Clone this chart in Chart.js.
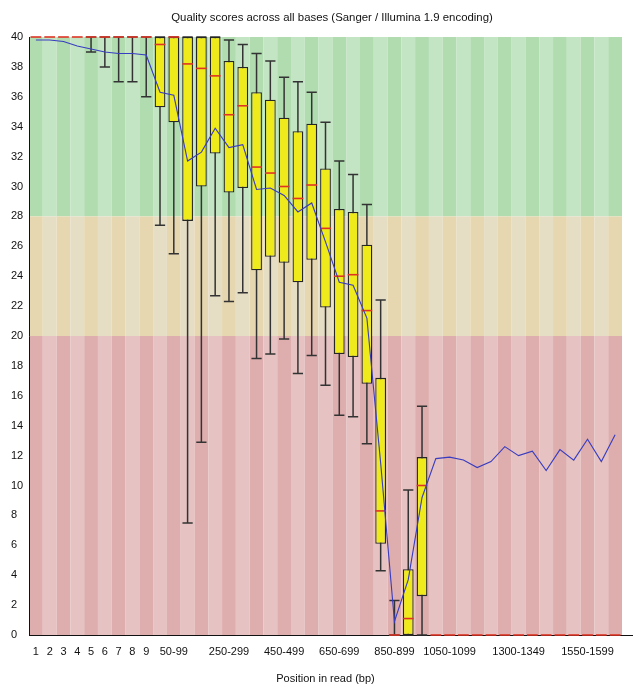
<!DOCTYPE html>
<html>
<head>
<meta charset="utf-8">
<script src="https://cdn.jsdelivr.net/npm/chart.js@4.4.1/dist/chart.umd.min.js"></script>
<style>
  html, body { margin: 0; padding: 0; background: #ffffff; }
  #wrap { width: 633px; height: 688px; }
</style>
</head>
<body>
<div id="wrap"><canvas id="chart" width="633" height="688"></canvas></div>
<script>
// Per-base quality summary: one entry per base position (or position group).
const categories = [
  '1', '2', '3', '4', '5', '6', '7', '8', '9', '10-49',
  '50-99', '100-149', '150-199', '200-249', '250-299', '300-349', '350-399', '400-449', '450-499', '500-549',
  '550-599', '600-649', '650-699', '700-749', '750-799', '800-849', '850-899', '900-949', '950-999', '1000-1049',
  '1050-1099', '1100-1149', '1150-1199', '1200-1249', '1250-1299', '1300-1349', '1350-1399', '1400-1449', '1450-1499', '1500-1549',
  '1550-1599', '1600-1649', '1650-1699'
];

// Position labels that are printed under the axis.
const shownTicks = ['1', '2', '3', '4', '5', '6', '7', '8', '9', '50-99', '250-299', '450-499',
  '650-699', '850-899', '1050-1099', '1300-1349', '1550-1599'];

const meanQuality = [
  39.8, 39.8, 39.7, 39.4, 39.2, 39.0, 38.9, 38.9, 38.8, 36.3,
  36.1, 31.7, 32.3, 33.9, 32.6, 32.8, 29.8, 29.9, 29.4, 28.3,
  28.9, 26.3, 23.6, 23.4, 21.2, 11.5, 0.9, 3.7, 9.2, 11.8,
  11.9, 11.7, 11.2, 11.6, 12.6, 12.0, 12.3, 11.0, 12.4, 11.7,
  13.1, 11.6, 13.4
];

const medianQuality = [
  40, 40, 40, 40, 40, 40, 40, 40, 40, 39.5,
  40, 38.2, 37.9, 37.4, 34.8, 35.4, 31.3, 30.9, 30.0, 29.2,
  30.1, 27.2, 24.0, 24.1, 21.7, 8.3, 0, 1.1, 10.0, 0,
  0, 0, 0, 0, 0, 0, 0, 0, 0, 0,
  0, 0, 0
];

const lowerQuartile = [
  40, 40, 40, 40, 40, 40, 40, 40, 40, 35.3,
  34.3, 27.7, 30.0, 32.2, 29.6, 29.9, 24.4, 25.3, 24.9, 23.6,
  25.1, 21.9, 18.8, 18.6, 16.8, 6.1, 0, 0, 2.6, 0,
  0, 0, 0, 0, 0, 0, 0, 0, 0, 0,
  0, 0, 0
];

const upperQuartile = [
  40, 40, 40, 40, 40, 40, 40, 40, 40, 40,
  40, 40, 40, 40, 38.4, 38.0, 36.3, 35.8, 34.6, 33.7,
  34.2, 31.2, 28.5, 28.3, 26.1, 17.2, 0, 4.4, 11.9, 0,
  0, 0, 0, 0, 0, 0, 0, 0, 0, 0,
  0, 0, 0
];

const lowerWhisker = [
  40, 40, 40, 40, 39, 38, 37, 37, 36, 27.4,
  25.5, 7.5, 12.9, 22.7, 22.3, 22.9, 18.5, 18.8, 19.8, 17.5,
  18.7, 16.7, 14.7, 14.6, 12.8, 4.3, 0, 0, 0, 0,
  0, 0, 0, 0, 0, 0, 0, 0, 0, 0,
  0, 0, 0
];

const upperWhisker = [
  40, 40, 40, 40, 40, 40, 40, 40, 40, 40,
  40, 40, 40, 40, 39.8, 39.5, 38.9, 38.4, 37.3, 37.0,
  36.3, 34.3, 31.7, 30.8, 28.8, 22.4, 2.3, 9.7, 15.3, 0,
  0, 0, 0, 0, 0, 0, 0, 0, 0, 0,
  0, 0, 0
];

const chartTitle = 'Quality scores across all bases (Sanger / Illumina 1.9 encoding)';
const axisTitle = 'Position in read (bp)';

const FONT = "'Liberation Sans', Arial, sans-serif";

// Quality zones, each painted with alternating column shades.
const zones = [
  { from: 28, to: 40, shades: ['rgb(176,220,176)', 'rgb(196,229,196)'] },
  { from: 20, to: 28, shades: ['rgb(230,215,176)', 'rgb(230,221,197)'] },
  { from: 0,  to: 20, shades: ['rgb(222,174,174)', 'rgb(230,194,194)'] }
];

const BOX_DATASET = 0;
const BOX_FRACTION = 0.78;

function boxHalfWidth(chart) {
  const area = chart.chartArea;
  return (area.right - area.left) / categories.length * BOX_FRACTION / 2;
}

const qualityPlot = {
  id: 'qualityPlot',
  beforeDraw(chart) {
    const { ctx, chartArea: area, scales: { x, y } } = chart;
    const step = (area.right - area.left) / categories.length;
    ctx.save();
    zones.forEach(zone => {
      const top = y.getPixelForValue(zone.to);
      const bottom = y.getPixelForValue(zone.from);
      categories.forEach((_, i) => {
        const cx = x.getPixelForValue(i);
        ctx.fillStyle = zone.shades[i % 2];
        ctx.fillRect(cx - step / 2, top, step, bottom - top);
      });
    });
    ctx.restore();
  },
  beforeDatasetDraw(chart, args) {
    if (args.index !== BOX_DATASET) return;
    const { ctx, scales: { x, y } } = chart;
    const half = boxHalfWidth(chart) * 0.95;
    ctx.save();
    ctx.strokeStyle = '#333333';
    ctx.lineWidth = 1.5;
    categories.forEach((_, i) => {
      const lo = lowerWhisker[i], hi = upperWhisker[i];
      if (hi === lo) return;
      const cx = x.getPixelForValue(i);
      const yLo = y.getPixelForValue(lo);
      const yHi = y.getPixelForValue(hi);
      ctx.beginPath();
      ctx.moveTo(cx, yLo);
      ctx.lineTo(cx, yHi);
      ctx.moveTo(cx - half, yLo);
      ctx.lineTo(cx + half, yLo);
      ctx.moveTo(cx - half, yHi);
      ctx.lineTo(cx + half, yHi);
      ctx.stroke();
    });
    ctx.restore();
  },
  afterDatasetDraw(chart, args) {
    if (args.index !== BOX_DATASET) return;
    const { ctx, scales: { x, y } } = chart;
    const half = boxHalfWidth(chart);
    ctx.save();
    ctx.strokeStyle = 'rgb(222,52,36)';
    ctx.lineWidth = 1.6;
    categories.forEach((_, i) => {
      const cx = x.getPixelForValue(i);
      const my = y.getPixelForValue(medianQuality[i]);
      ctx.beginPath();
      ctx.moveTo(cx - half, my);
      ctx.lineTo(cx + half, my);
      ctx.stroke();
    });
    ctx.restore();
  },
  afterDraw(chart) {
    const { ctx, chartArea: area } = chart;
    ctx.save();
    // x axis runs on past the last column
    ctx.strokeStyle = '#111111';
    ctx.lineWidth = 1;
    ctx.beginPath();
    ctx.moveTo(area.right - 1, area.bottom + 0.5);
    ctx.lineTo(chart.width, area.bottom + 0.5);
    ctx.stroke();
    ctx.fillStyle = '#111111';
    ctx.font = '11.4px ' + FONT;
    ctx.textAlign = 'center';
    ctx.textBaseline = 'middle';
    ctx.fillText(chartTitle, 332, 17.5);
    ctx.restore();
  }
};

new Chart(document.getElementById('chart'), {
  type: 'bar',
  data: {
    labels: categories,
    datasets: [
      {
        type: 'bar',
        label: 'Interquartile range',
        data: categories.map((_, i) => [lowerQuartile[i], upperQuartile[i]]),
        backgroundColor: 'rgb(238,234,28)',
        borderColor: '#262626',
        borderWidth: 1.3,
        borderSkipped: false,
        barPercentage: BOX_FRACTION,
        categoryPercentage: 1,
        grouped: false,
        clip: false,
        order: 1
      },
      {
        type: 'line',
        label: 'Mean quality',
        data: meanQuality,
        borderColor: 'rgb(56,60,192)',
        borderWidth: 1.1,
        pointRadius: 0,
        tension: 0,
        fill: false,
        clip: false,
        order: 0
      }
    ]
  },
  options: {
    responsive: false,
    animation: false,
    devicePixelRatio: 1,
    layout: { padding: { left: 11, right: 11, top: 37, bottom: 0 } },
    plugins: {
      legend: { display: false },
      title: { display: false },
      tooltip: { enabled: false }
    },
    scales: {
      x: {
        type: 'category',
        grid: { display: false, drawTicks: false },
        border: { display: true, color: '#111111', width: 1 },
        ticks: {
          autoSkip: false,
          maxRotation: 0,
          minRotation: 0,
          padding: 10,
          color: '#111111',
          font: { family: FONT, size: 11 },
          callback(value) {
            const label = categories[value];
            return shownTicks.includes(label) ? label : '';
          }
        },
        title: {
          display: true,
          text: axisTitle,
          color: '#111111',
          font: { family: FONT, size: 11 },
          padding: { top: 4, bottom: 2 }
        },
        afterFit(scale) { scale.height = 53; }
      },
      y: {
        min: 0,
        max: 40,
        grid: { display: false, drawTicks: false },
        border: { display: true, color: '#111111', width: 1 },
        ticks: {
          stepSize: 2,
          crossAlign: 'far',
          padding: 0,
          color: '#111111',
          font: { family: FONT, size: 11 }
        },
        afterFit(scale) { scale.width = 18; }
      }
    }
  },
  plugins: [qualityPlot]
});
</script>
</body>
</html>
